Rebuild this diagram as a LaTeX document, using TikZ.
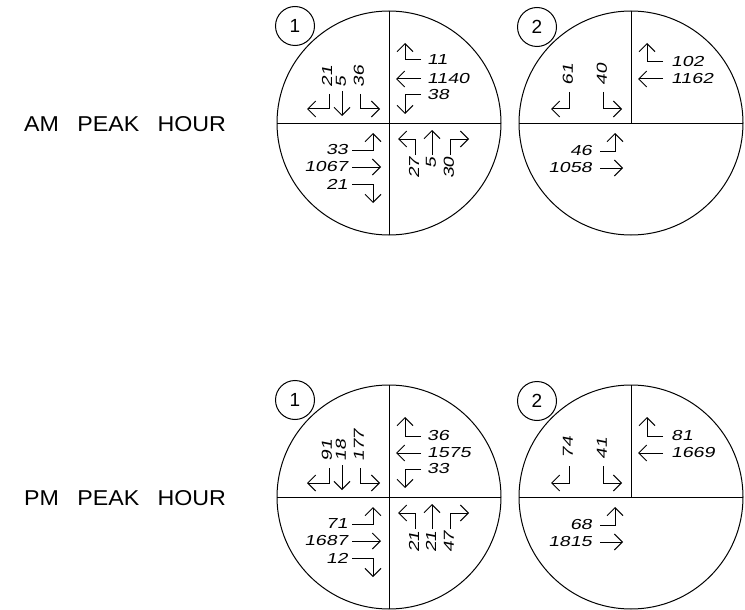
\documentclass[tikz,border=0pt]{standalone}
\usepackage{fontspec}
\setmainfont{Liberation Sans}
\newfontfamily\countfont{Liberation Sans}[FakeSlant=0.2,FakeStretch=1.35]
\newfontfamily\titlefont{Liberation Sans}[FakeStretch=1.08]
\usetikzlibrary{arrows.meta}

\tikzset{
  ring/.style={line width=1pt},
  turn/.style={line width=1pt,-{Straight Barb[length=8pt,width=16pt]}},
  count/.style={inner sep=0pt,font=\countfont\fontsize{14.5}{17}\selectfont},
  countup/.style={count,rotate=90},
  tag/.style={inner sep=0pt,font=\fontsize{19}{21}\selectfont},
  heading/.style={inner sep=0pt,anchor=west,font=\titlefont\fontsize{21.5}{24}\selectfont}
}

\begin{document}
\begin{tikzpicture}[x=1pt,y=-1pt]
\useasboundingbox (0,0) rectangle (745,610);

\node[heading] (amtitle) at (24,124) {AM\hspace{0.85em}PEAK\hspace{0.85em}HOUR};
\node[heading] (pmtitle) at (24,498) {PM\hspace{0.85em}PEAK\hspace{0.85em}HOUR};

% AM, intersection 1
\begin{scope}[shift={(389,123)}]
  \draw[ring] (0,0) circle[radius=112];
  \draw[ring] (0,-112) -- (0,112) (-112,0) -- (112,0);
  \draw[ring] (-94,-97) circle[radius=19.5];
  \node[tag] (am1) at (-94,-97) {1};
  % southbound
  \draw[turn] (-60,-29) -- (-60,-14) -- (-82,-14);
  \draw[turn] (-47,-32) -- (-47,-7);
  \draw[turn] (-29,-29) -- (-29,-14) -- (-9,-14);
  \node[countup,anchor=west] (am1-sl) at (-62,-35) {21};
  \node[countup,anchor=west] (am1-st) at (-48,-35) {5};
  \node[countup,anchor=west] (am1-sr) at (-30,-35) {36};
  % westbound
  \draw[turn] (32,-63) -- (16,-63) -- (16,-80);
  \draw[turn] (32,-44) -- (7,-44);
  \draw[turn] (32,-28) -- (16,-28) -- (16,-9);
  \node[count,anchor=west] (am1-wr) at (38,-63) {11};
  \node[count,anchor=west] (am1-wt) at (38,-44) {1140};
  \node[count,anchor=west] (am1-wl) at (38,-28) {38};
  % eastbound
  \draw[turn] (-37,27) -- (-16,27) -- (-16,10);
  \draw[turn] (-37,44) -- (-8,44);
  \draw[turn] (-37,61) -- (-16,61) -- (-16,80);
  \node[count,anchor=east] (am1-el) at (-41,27) {33};
  \node[count,anchor=east] (am1-et) at (-41,44) {1067};
  \node[count,anchor=east] (am1-er) at (-41,61) {21};
  % northbound
  \draw[turn] (26,32) -- (26,16) -- (9,16);
  \draw[turn] (43,32) -- (43,7);
  \draw[turn] (61,32) -- (61,16) -- (80,16);
  \node[countup,anchor=east] (am1-nl) at (25,34) {27};
  \node[countup,anchor=east] (am1-nt) at (42,34) {5};
  \node[countup,anchor=east] (am1-nr) at (60,34) {30};
\end{scope}

% AM, intersection 2
\begin{scope}[shift={(631,123)}]
  \draw[ring] (0,0) circle[radius=112];
  \draw[ring] (0,-112) -- (0,0) (-112,0) -- (112,0);
  \draw[ring] (-94,-96) circle[radius=19.5];
  \node[tag] (am2) at (-94,-96) {2};
  % southbound
  \draw[turn] (-62,-31) -- (-62,-14) -- (-80,-14);
  \draw[turn] (-28,-31) -- (-28,-14) -- (-9,-14);
  \node[countup,anchor=west] (am2-sl) at (-63,-37) {61};
  \node[countup,anchor=west] (am2-sr) at (-29,-37) {40};
  % westbound
  \draw[turn] (32,-61) -- (16,-61) -- (16,-80);
  \draw[turn] (32,-44) -- (7,-44);
  \node[count,anchor=west] (am2-wr) at (40,-61) {102};
  \node[count,anchor=west] (am2-wt) at (40,-44) {1162};
  % eastbound
  \draw[turn] (-31,28) -- (-16,28) -- (-16,10);
  \draw[turn] (-31,45) -- (-8,45);
  \node[count,anchor=east] (am2-el) at (-39,28) {46};
  \node[count,anchor=east] (am2-et) at (-39,45) {1058};
\end{scope}

% PM, intersection 1
\begin{scope}[shift={(389,497)}]
  \draw[ring] (0,0) circle[radius=112];
  \draw[ring] (0,-112) -- (0,112) (-112,0) -- (112,0);
  \draw[ring] (-94,-97) circle[radius=19.5];
  \node[tag] (pm1) at (-94,-97) {1};
  % southbound
  \draw[turn] (-60,-29) -- (-60,-14) -- (-82,-14);
  \draw[turn] (-47,-32) -- (-47,-7);
  \draw[turn] (-29,-29) -- (-29,-14) -- (-9,-14);
  \node[countup,anchor=west] (pm1-sl) at (-62,-35) {91};
  \node[countup,anchor=west] (pm1-st) at (-48,-35) {18};
  \node[countup,anchor=west] (pm1-sr) at (-30,-35) {177};
  % westbound
  \draw[turn] (32,-61) -- (16,-61) -- (16,-80);
  \draw[turn] (32,-44) -- (7,-44);
  \draw[turn] (32,-28) -- (16,-28) -- (16,-9);
  \node[count,anchor=west] (pm1-wr) at (38,-61) {36};
  \node[count,anchor=west] (pm1-wt) at (38,-44) {1575};
  \node[count,anchor=west] (pm1-wl) at (38,-28) {33};
  % eastbound
  \draw[turn] (-37,27) -- (-16,27) -- (-16,10);
  \draw[turn] (-37,44) -- (-8,44);
  \draw[turn] (-37,61) -- (-16,61) -- (-16,80);
  \node[count,anchor=east] (pm1-el) at (-41,27) {71};
  \node[count,anchor=east] (pm1-et) at (-41,44) {1687};
  \node[count,anchor=east] (pm1-er) at (-41,61) {12};
  % northbound
  \draw[turn] (26,32) -- (26,16) -- (9,16);
  \draw[turn] (43,32) -- (43,7);
  \draw[turn] (61,32) -- (61,16) -- (80,16);
  \node[countup,anchor=east] (pm1-nl) at (25,34) {21};
  \node[countup,anchor=east] (pm1-nt) at (42,34) {21};
  \node[countup,anchor=east] (pm1-nr) at (60,34) {47};
\end{scope}

% PM, intersection 2
\begin{scope}[shift={(631,497)}]
  \draw[ring] (0,0) circle[radius=112];
  \draw[ring] (0,-112) -- (0,0) (-112,0) -- (112,0);
  \draw[ring] (-94,-96) circle[radius=19.5];
  \node[tag] (pm2) at (-94,-96) {2};
  % southbound
  \draw[turn] (-62,-31) -- (-62,-14) -- (-80,-14);
  \draw[turn] (-28,-31) -- (-28,-14) -- (-9,-14);
  \node[countup,anchor=west] (pm2-sl) at (-63,-38) {74};
  \node[countup,anchor=west] (pm2-sr) at (-29,-37) {41};
  % westbound
  \draw[turn] (32,-61) -- (16,-61) -- (16,-80);
  \draw[turn] (32,-44) -- (7,-44);
  \node[count,anchor=west] (pm2-wr) at (40,-61) {81};
  \node[count,anchor=west] (pm2-wt) at (40,-44) {1669};
  % eastbound
  \draw[turn] (-31,28) -- (-16,28) -- (-16,10);
  \draw[turn] (-31,45) -- (-8,45);
  \node[count,anchor=east] (pm2-el) at (-39,28) {68};
  \node[count,anchor=east] (pm2-et) at (-39,45) {1815};
\end{scope}
\end{tikzpicture}
\end{document}
